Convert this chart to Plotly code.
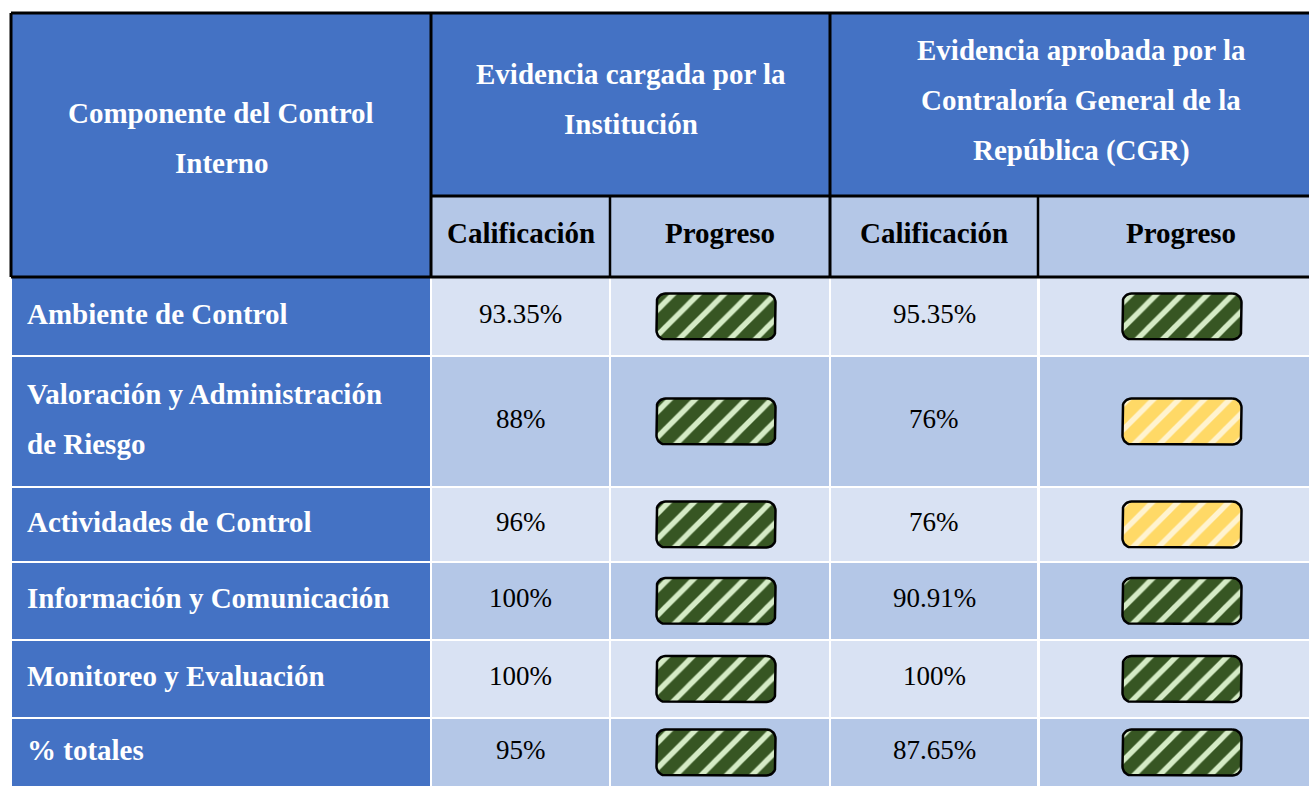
import numpy as np
import plotly.graph_objects as go

# ---------------- data ----------------
components = [
    "Ambiente de Control",
    "Valoración y Administración|de Riesgo",
    "Actividades de Control",
    "Información y Comunicación",
    "Monitoreo y Evaluación",
    "% totales",
]
inst_scores = [93.35, 88, 96, 100, 100, 95]
cgr_scores = [95.35, 76, 76, 90.91, 100, 87.65]

header_component = ["Componente del Control", "Interno"]
header_inst = ["Evidencia cargada por la", "Institución"]
header_cgr = ["Evidencia aprobada por la", "Contraloría General de la", "República (CGR)"]
sub_headers = ["Calificación", "Progreso", "Calificación", "Progreso"]

# ---------------- styling / layout ----------------
W, H = 1309, 786
FONT = "Liberation Serif"
BLUE = "#4472C4"
MID = "#B4C7E7"
LIGHT = "#D9E2F3"
GREEN = ("#375623", "#D5EBC6")
YELLOW = ("#FFD966", "#FFF3D0")
THRESH = 80
BOLD_SIZE = 29
NUM_SIZE = 27

TOP, HDR1, HDR2 = 13, 196, 277
HX = [11, 431, 610, 830, 1038, 1324]
COLS = [(12, 430), (432, 609), (611, 829), (831, 1037), (1040, 1324)]
ROWS = [(278, 355), (357, 486), (488, 561), (563, 639), (641, 717), (719, 800)]
BADGE_W, BADGE_H, BADGE_R = 119, 46, 9

fig = go.Figure()
shapes = []
ann = []


def rect(x0, y0, x1, y1, fill):
    shapes.append(dict(type="rect", xref="x", yref="y", x0=x0, x1=x1, y0=y0, y1=y1,
                       fillcolor=fill, line=dict(width=0), layer="below"))


def line(x0, y0, x1, y1, w=2.5):
    shapes.append(dict(type="line", xref="x", yref="y", x0=x0, x1=x1, y0=y0, y1=y1,
                       line=dict(color="black", width=w)))


def text(x, y, s, size=BOLD_SIZE, color="black", bold=False, xanchor="center"):
    ann.append(dict(x=x, y=y, xref="x", yref="y", text=f"<b>{s}</b>" if bold else s,
                    showarrow=False, xanchor=xanchor, yanchor="middle",
                    font=dict(family=FONT, size=size, color=color)))


# header backgrounds
rect(HX[0], TOP, HX[1], HDR2, BLUE)
rect(HX[1], TOP, HX[5], HDR1, BLUE)
for i in range(1, 5):
    rect(HX[i], HDR1, HX[i + 1], HDR2, MID)

# header lines
line(HX[0], TOP, HX[5], TOP, 3)
line(HX[1], HDR1, HX[5], HDR1, 3)
line(HX[0], HDR2, HX[5], HDR2, 3)
line(HX[0], TOP, HX[0], HDR2, 3)
line(HX[1], TOP, HX[1], HDR2, 3)
line(HX[3], TOP, HX[3], HDR2, 3)
line(HX[2], HDR1, HX[2], HDR2, 2.5)
line(HX[4], HDR1, HX[4], HDR2, 2.5)

# header texts
LH = 50


def header_block(lines_, cx, cy):
    n = len(lines_)
    for k, s in enumerate(lines_):
        text(cx, cy + (k - (n - 1) / 2) * LH, s, color="white", bold=True)


header_block(header_component, (HX[0] + HX[1]) / 2, 138)
header_block(header_inst, (HX[1] + HX[3]) / 2, 99)
header_block(header_cgr, (HX[3] + HX[5]) / 2 + 4, 100)
for i, s in enumerate(sub_headers):
    text((HX[i + 1] + HX[i + 2]) / 2, 233, s, bold=True)


def badge(cx, cy, score):
    base, stripe = GREEN if score >= THRESH else YELLOW
    x0, x1 = cx - BADGE_W / 2, cx + BADGE_W / 2
    y0, y1 = cy - BADGE_H / 2, cy + BADGE_H / 2
    r = BADGE_R
    xs, ys = [], []
    corners = [(x1 - r, y0 + r, -90, 0), (x1 - r, y1 - r, 0, 90),
               (x0 + r, y1 - r, 90, 180), (x0 + r, y0 + r, 180, 270)]
    for ccx, ccy, a0, a1 in corners:
        t = np.radians(np.linspace(a0, a1, 10))
        xs += list(ccx + r * np.cos(t))
        ys += list(ccy + r * np.sin(t))
    xs.append(xs[0]); ys.append(ys[0])
    fig.add_trace(go.Scatter(
        x=xs, y=ys, mode="lines", fill="toself", fillcolor=base,
        fillpattern=dict(shape="/", bgcolor=base, fgcolor=stripe, size=18,
                         solidity=0.3, fillmode="replace"),
        line=dict(color="black", width=2.5), hoverinfo="skip", showlegend=False))


def fmt(v):
    return f"{v:g}%"


for r, (name, a, b) in enumerate(zip(components, inst_scores, cgr_scores)):
    y0, y1 = ROWS[r]
    bg = LIGHT if r % 2 == 0 else MID
    for c, (cx0, cx1) in enumerate(COLS):
        rect(cx0, y0, cx1, y1, BLUE if c == 0 else bg)
    cy = (y0 + min(y1, H)) / 2
    ty = cy - 3
    parts = name.split("|")
    n = len(parts)
    for k, s in enumerate(parts):
        text(25, ty + (k - (n - 1) / 2) * LH, s, color="white", bold=True, xanchor="left")
    text(sum(COLS[1]) / 2, ty, fmt(a), size=NUM_SIZE)
    text(sum(COLS[3]) / 2, ty, fmt(b), size=NUM_SIZE)
    badge(sum(COLS[2]) / 2 - 4, cy, a)
    badge(sum(COLS[4]) / 2, cy, b)

fig.update_layout(
    width=W, height=H, margin=dict(l=0, r=0, t=0, b=0),
    paper_bgcolor="white", plot_bgcolor="white",
    xaxis=dict(range=[0, W], visible=False, fixedrange=True),
    yaxis=dict(range=[H, 0], visible=False, fixedrange=True),
    shapes=shapes, annotations=ann, showlegend=False,
)
fig.write_html(
    "out.html",
    config={"displayModeBar": False},
    post_script="document.body.style.margin='0';document.body.style.overflow='hidden';",
)
